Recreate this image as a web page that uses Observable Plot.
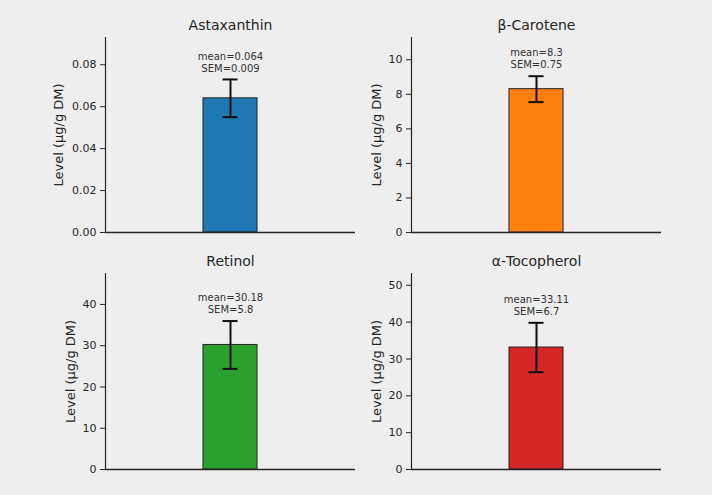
<!DOCTYPE html>
<html><head><meta charset="utf-8">
<script src="https://cdn.jsdelivr.net/npm/d3@7"></script>
<script src="https://cdn.jsdelivr.net/npm/@observablehq/plot@0.6"></script>
<style>
html,body{margin:0;padding:0;background:#f6f6f6;}
#fig{position:relative;width:712px;height:495px;background:#eeeeee;font-family:"DejaVu Sans",sans-serif;overflow:hidden;}
#fig svg{position:absolute;overflow:visible;}
</style></head><body><div id="fig"></div>
<script>
const nutrients = ["Astaxanthin", "β-Carotene", "Retinol", "α-Tocopherol"];
const means = [0.064, 8.3, 30.18, 33.11];
const sems = [0.009, 0.75, 5.8, 6.7];
const meanLabels = ["0.064", "8.3", "30.18", "33.11"];
const semLabels = ["0.009", "0.75", "5.8", "6.7"];
const colors = ["#1f77b4", "#ff7f0e", "#2ca02c", "#d62728"];
const yMax = [0.093, 11.29, 47.5, 53.2];
const yTicks = [[0, 0.02, 0.04, 0.06, 0.08], [0, 2, 4, 6, 8, 10], [0, 10, 20, 30, 40], [0, 10, 20, 30, 40, 50]];
const yTickFormats = [".2f", "d", "d", "d"];
const yLabel = "Level (μg/g DM)";

const layout = [
  {left: 0,   top: 0,   ml: 105, mr: 1,  mt: 37, mb: 13, h: 245, labelDx: -47},
  {left: 356, top: 0,   ml: 55,  mr: 51, mt: 37, mb: 13, h: 245, labelDx: -35},
  {left: 0,   top: 245, ml: 105, mr: 1,  mt: 28, mb: 26, h: 250, labelDx: -35},
  {left: 356, top: 245, ml: 55,  mr: 51, mt: 28, mb: 26, h: 250, labelDx: -35}
];
const frameW = 250;
const ink = "#262626";
const fig = document.getElementById("fig");

nutrients.forEach((name, i) => {
  const L = layout[i];
  const d = [{name, mean: means[i], sem: sems[i], ml: meanLabels[i], sl: semLabels[i]}];
  const lo = r => r.mean - r.sem;
  const hi = r => r.mean + r.sem;
  const chart = Plot.plot({
    width: 356, height: L.h,
    marginLeft: L.ml, marginRight: L.mr, marginTop: L.mt, marginBottom: L.mb,
    style: {background: "transparent", fontFamily: "DejaVu Sans, sans-serif", fontSize: "11px", color: ink, overflow: "visible"},
    x: {type: "band", domain: [name], paddingInner: 0.2, paddingOuter: 1.45, round: false, axis: null},
    y: {domain: [0, yMax[i]], axis: null},
    marks: [
      Plot.axisY({ticks: yTicks[i], tickFormat: d3.format(yTickFormats[i]), tickSize: 5, tickPadding: 4, label: null, stroke: ink, fill: ink, fontSize: 11}),
      // left spine: a rule from the band centre shifted to the frame's left edge
      Plot.ruleX(d, {x: "name", y1: 0, y2: yMax[i], dx: -frameW / 2, stroke: ink, strokeWidth: 1.2}),
      Plot.barY(d, {x: "name", y: "mean", fill: colors[i], stroke: ink, strokeWidth: 1}),
      Plot.ruleY([0], {stroke: ink, strokeWidth: 1.3}),
      Plot.ruleX(d, {x: "name", y1: lo, y2: hi, stroke: "#111", strokeWidth: 2}),
      Plot.tickY(d, {x: "name", y: lo, stroke: "#111", strokeWidth: 2, insetLeft: 19.5, insetRight: 19.5}),
      Plot.tickY(d, {x: "name", y: hi, stroke: "#111", strokeWidth: 2, insetLeft: 19.5, insetRight: 19.5}),
      Plot.text(d, {x: "name", y: hi, text: r => `mean=${r.ml}\nSEM=${r.sl}`, lineAnchor: "middle", lineHeight: 1.2, dy: -17.6, fontSize: 10, fill: "#333"}),
      Plot.text([name], {frameAnchor: "top", text: t => t, textAnchor: "middle", lineAnchor: "middle", dy: -12, fontSize: 14, fill: ink}),
      Plot.text([yLabel], {frameAnchor: "left", text: t => t, rotate: -90, textAnchor: "middle", lineAnchor: "middle", dx: L.labelDx, fontSize: 13, fill: ink})
    ]
  });
  chart.style.left = L.left + "px";
  chart.style.top = L.top + "px";
  fig.appendChild(chart);
});
</script></body></html>
